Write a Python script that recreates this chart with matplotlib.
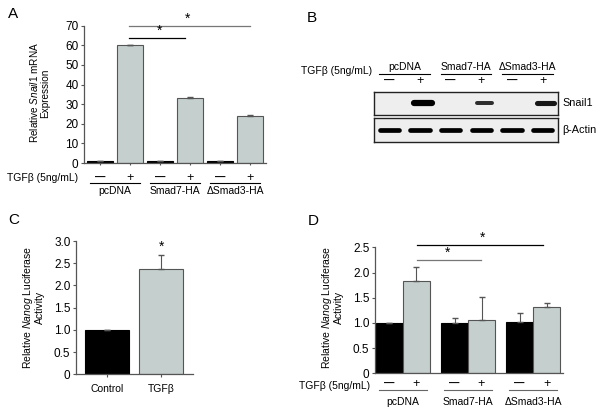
import matplotlib
matplotlib.use("Agg")
import matplotlib.pyplot as plt
import matplotlib.transforms as mtrans

plt.rcParams['font.family'] = ['Liberation Sans', 'DejaVu Sans']
plt.rcParams['mathtext.fontset'] = 'custom'
plt.rcParams['mathtext.rm'] = 'Liberation Sans'
plt.rcParams['mathtext.it'] = 'Liberation Sans:italic'
plt.rcParams['font.size'] = 7.5

# ---- data ----
groups = ["pcDNA", "Smad7-HA", "\u0394Smad3-HA"]
signs = ["\u2014", "+", "\u2014", "+", "\u2014", "+"]
a_vals = [1.0, 60.0, 1.0, 33.2, 0.8, 23.9]
a_err = [0.2, 0.3, 0.2, 0.3, 0.2, 0.4]
a_ticks = [0, 10, 20, 30, 40, 50, 60, 70]

blot_lanes = [0, 1, 2, 3, 4, 5]
snail_int = [0.0, 1.0, 0.0, 0.5, 0.0, 0.75]
snail_len = [0.0, 0.40, 0.0, 0.36, 0.0, 0.40]
actin_int = [1.0, 1.0, 1.0, 1.0, 1.0, 1.0]

c_labels = ["Control", "TGF\u03b2"]
c_vals = [1.0, 2.38]
c_err = [0.0, 0.30]
c_ticks = [0, 0.5, 1.0, 1.5, 2.0, 2.5, 3.0]

d_ctrl = [1.0, 0.99, 1.02]
d_ctrl_err = [0.0, 0.10, 0.18]
d_tgf = [1.84, 1.05, 1.32]
d_tgf_err = [0.26, 0.46, 0.08]
d_ticks = [0, 0.5, 1.0, 1.5, 2.0, 2.5]

GRAY = '#c5cfce'
EDGE = '#555555'
AX = '#555555'

fig = plt.figure(figsize=(6.0, 4.13), dpi=100)


def style(ax):
    for s in ['top', 'right']:
        ax.spines[s].set_visible(False)
    for s in ['left', 'bottom']:
        ax.spines[s].set_color(AX)
        ax.spines[s].set_linewidth(0.9)
    ax.tick_params(colors=AX, labelcolor='black', length=2.5, width=0.8, labelsize=8.5, pad=1.5)


def tick_fmt(v):
    return "0" if v == 0 else "%.1f" % v


def sign_text(ax, x, y, s, tr):
    if s == "+":
        ax.text(x, y, s, transform=tr, ha='center', va='center', fontsize=9)
    else:
        ax.text(x, y, s, transform=tr, ha='center', va='center', fontsize=7.5, fontweight='bold')


# ---- panel A ----
axA = fig.add_axes([84/600, 1-163/413, 182/600, 137.3/413])
xa = list(range(6))
colsA = ['black', GRAY] * 3
axA.bar(xa, a_vals, width=0.87, color=colsA, edgecolor=['black', EDGE]*3, linewidth=0.8)
axA.errorbar(xa, a_vals, yerr=[[0]*6, a_err], fmt='none', ecolor=EDGE, capsize=2, elinewidth=0.8)
axA.set_xlim(-0.53, 5.53)
axA.set_ylim(0, 70)
axA.set_yticks(a_ticks)
axA.set_yticklabels([str(t) for t in a_ticks])
axA.set_xticks(xa)
axA.set_xticklabels([])
style(axA)
axA.tick_params(axis='x', length=1.5)
axA.plot([0.97, 2.83], [63.7, 63.7], color='black', lw=0.9, clip_on=False)
axA.text(2.0, 63.8, "*", ha='center', va='bottom', fontsize=10)
axA.plot([0.97, 5.0], [70, 70], color='#777777', lw=0.9, clip_on=False)
axA.text(2.93, 70.1, "*", ha='center', va='bottom', fontsize=10)
trA = mtrans.blended_transform_factory(axA.transData, axA.transAxes)
for i, s in enumerate(signs):
    sign_text(axA, xa[i], -0.109, s, trA)
for g in range(3):
    c = 2*g + 0.5
    axA.plot([c-0.83, c+0.83], [-0.146, -0.146], transform=trA, color='black', lw=0.8, clip_on=False)
    axA.text(c, -0.205, groups[g], transform=trA, ha='center', va='center', fontsize=7.5)
fig.text(78/600, 1-178/413, "TGF\u03b2 (5ng/mL)", ha='right', va='center', fontsize=7.5)
fig.text(39/600, 1-93/413, "Relative $\\mathit{Snail1}$ mRNA\nExpression", rotation=90,
         ha='center', va='center', fontsize=7.2, linespacing=1.1)

# ---- panel B (blot) ----
axB1 = fig.add_axes([374/600, 1-115/413, 184/600, 23/413])
axB2 = fig.add_axes([374/600, 1-142/413, 184/600, 24/413])
for ax in (axB1, axB2):
    ax.set_facecolor('#eeeeee')
    ax.set_xlim(-0.5, 5.5)
    ax.set_ylim(0, 1)
    ax.set_xticks([])
    ax.set_yticks([])
    for s in ax.spines.values():
        s.set_color('#222222')
        s.set_linewidth(1.0)
for i in blot_lanes:
    if snail_int[i] > 0:
        shade = 0.35 * (1 - snail_int[i])
        axB1.plot([i + 0.1 - snail_len[i] + 0.12, i + 0.1 + snail_len[i] - 0.12], [0.52, 0.52],
                  color=(shade, shade, shade), lw=1.2 + 3.3*snail_int[i], solid_capstyle='round')
    axB2.plot([i - 0.32, i + 0.32], [0.52, 0.52], color='black', lw=3.4*actin_int[i],
              solid_capstyle='round')
fig.text(562/600, 1-103/413, "Snail1", ha='left', va='center', fontsize=7.8)
fig.text(562/600, 1-130/413, "\u03b2-Actin", ha='left', va='center', fontsize=7.8)
fig.text(372/600, 1-71/413, "TGF\u03b2 (5ng/mL)", ha='right', va='center', fontsize=7.5)
trB = mtrans.blended_transform_factory(axB1.transData, fig.transFigure)
for g in range(3):
    c = 2*g + 0.5
    axB1.text(c, 1-67/413, groups[g], transform=trB, ha='center', va='center', fontsize=7.5)
    axB1.plot([c-0.83, c+0.83], [1-73.5/413]*2, transform=trB, color='black', lw=0.8, clip_on=False)
for i, s in enumerate(signs):
    sign_text(axB1, i, 1-81/413, s, trB)

# ---- panel C ----
axC = fig.add_axes([76/600, 1-374.3/413, 117/600, 133.3/413])
xc = [0, 1]
axC.bar(xc, c_vals, width=0.815, color=['black', GRAY], edgecolor=['black', EDGE], linewidth=0.8)
axC.errorbar(xc, c_vals, yerr=[[0, 0], c_err], fmt='none', ecolor=EDGE, capsize=2.5, elinewidth=0.8)
axC.set_xlim(-0.574, 1.59)
axC.set_ylim(0, 3)
axC.set_yticks(c_ticks)
axC.set_yticklabels([tick_fmt(t) for t in c_ticks])
axC.set_xticks(xc)
axC.set_xticklabels(c_labels, fontsize=7.5)
style(axC)
axC.tick_params(axis='x', length=2, pad=5, labelsize=7.5)
axC.text(1, 2.72, "*", ha='center', va='bottom', fontsize=10)
fig.text(33/600, 1-307/413, "Relative $\\mathit{Nanog}$ Luciferase\nActivity", rotation=90,
         ha='center', va='center', fontsize=7.5, linespacing=1.1)

# ---- panel D ----
axD = fig.add_axes([375/600, 1-373.3/413, 188/600, 126/413])
xd = [0, 1, 2]
w = 0.415
xl = [x - w/2 for x in xd]
xr = [x + w/2 for x in xd]
axD.bar(xl, d_ctrl, width=w, color='black', edgecolor='black', linewidth=0.8)
axD.bar(xr, d_tgf, width=w, color=GRAY, edgecolor=EDGE, linewidth=0.8)
axD.errorbar(xl, d_ctrl, yerr=[[0]*3, d_ctrl_err], fmt='none', ecolor=EDGE, capsize=2.5, elinewidth=0.8)
axD.errorbar(xr, d_tgf, yerr=[[0]*3, d_tgf_err], fmt='none', ecolor=EDGE, capsize=2.5, elinewidth=0.8)
axD.set_xlim(-0.43, 2.46)
axD.set_ylim(0, 2.5)
axD.set_yticks(d_ticks)
axD.set_yticklabels([tick_fmt(t) for t in d_ticks])
axD.set_xticks([])
style(axD)
axD.plot([0.21, 1.2], [2.25, 2.25], color='#777777', lw=0.9, clip_on=False)
axD.text(0.69, 2.25, "*", ha='center', va='bottom', fontsize=10)
axD.plot([0.21, 2.15], [2.55, 2.55], color='black', lw=0.9, clip_on=False)
axD.text(1.23, 2.55, "*", ha='center', va='bottom', fontsize=10)
trD = mtrans.blended_transform_factory(axD.transData, axD.transAxes)
dpos = []
for x in xd:
    dpos += [x - w/2, x + w/2]
for i, s in enumerate(signs):
    sign_text(axD, dpos[i], -0.085, s, trD)
for g in range(3):
    axD.plot([g-0.37, g+0.37], [-0.13, -0.13], transform=trD, color='#666666', lw=0.8, clip_on=False)
    axD.text(g, -0.23, groups[g], transform=trD, ha='center', va='center', fontsize=7.5)
fig.text(370/600, 1-386/413, "TGF\u03b2 (5ng/mL)", ha='right', va='center', fontsize=7.5)
fig.text(332/600, 1-307/413, "Relative $\\mathit{Nanog}$ Luciferase\nActivity", rotation=90,
         ha='center', va='center', fontsize=7.5, linespacing=1.1)

# panel letters
for lab, x, y in [("A", 8, 7), ("B", 307, 11), ("C", 8, 213), ("D", 308, 214)]:
    fig.text(x/600, 1-y/413, lab, ha='left', va='top', fontsize=11)

fig.savefig("out.png", dpi=100)
